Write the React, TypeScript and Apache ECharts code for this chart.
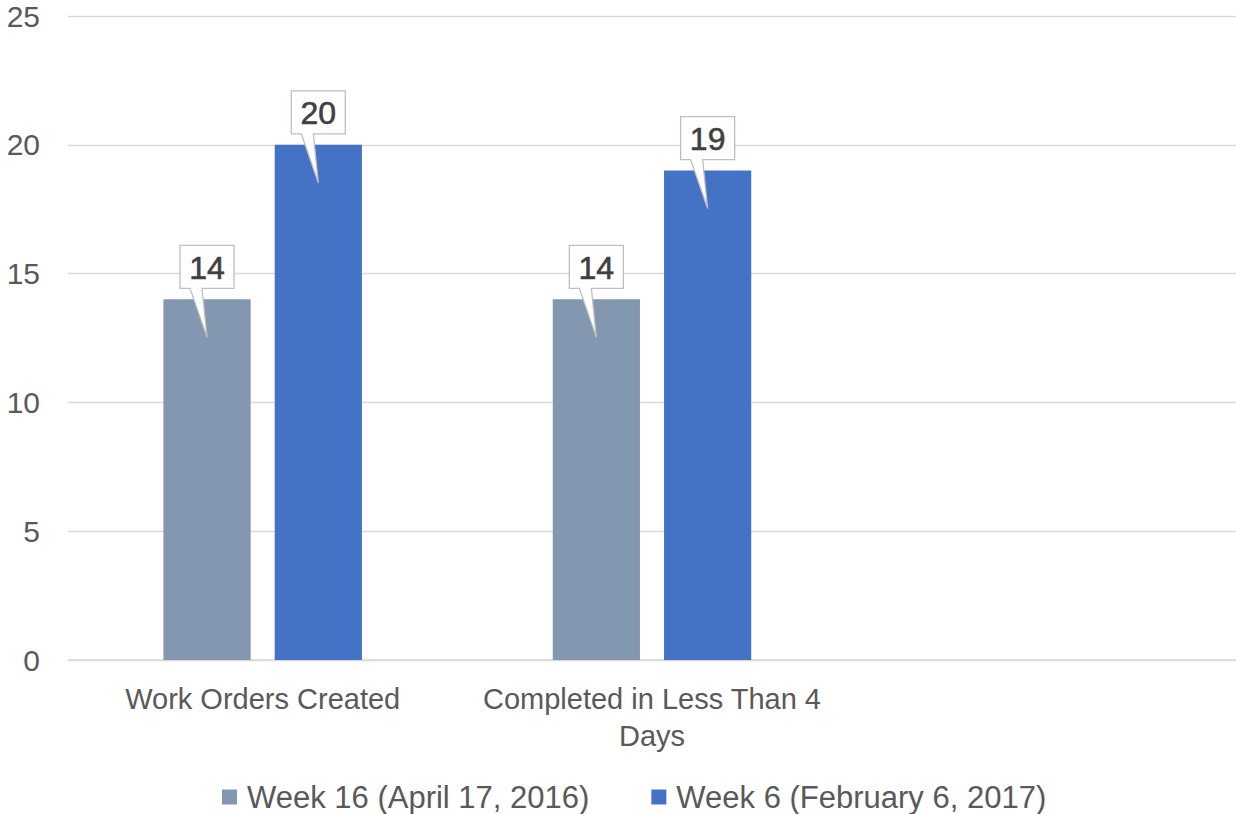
import React, { useEffect, useRef } from "react";
import * as echarts from "echarts";

const categories = ["Work Orders Created", "Completed in Less Than 4\nDays", ""];
const seriesNames = ["Week 16 (April 17, 2016)", "Week 6 (February 6, 2017)"];
const week16 = [14, 14, null];
const week6 = [20, 19, null];
const yTicks = { min: 0, max: 25, interval: 5 };

const colors = ["#8497B0", "#4472C4"];
const FONT = "'Liberation Sans', Arial, sans-serif";
const BAR_W = 0.224;
const BAR_GAP = 0.276;

function calloutSeries(values: (number | null)[], side: number) {
  const data = values
    .map((v, i) => (v == null ? null : [i, v]))
    .filter((d) => d != null);
  return {
    type: "custom",
    z: 10,
    clip: false,
    silent: true,
    data,
    renderItem: (params: any, api: any) => {
      const cat = api.value(0);
      const val = api.value(1);
      const p = api.coord([cat, val]);
      const bandW = api.size([1, 0])[0];
      const bw = bandW * BAR_W;
      const off = side * (bw + bw * BAR_GAP) / 2;
      const cx = p[0] + off;
      const top = p[1];
      const bx0 = cx - 27;
      const bx1 = cx + 27;
      const by1 = top - 11;
      const by0 = top - 54;
      return {
        type: "group",
        children: [
          {
            type: "polygon",
            shape: {
              points: [
                [bx0, by0],
                [bx1, by0],
                [bx1, by1],
                [cx - 5, by1],
                [cx, top + 38],
                [cx - 17, by1],
                [bx0, by1],
              ],
            },
            style: { fill: "#ffffff", stroke: "#bfbfbf", lineWidth: 1.3 },
          },
          {
            type: "text",
            style: {
              text: String(val),
              x: cx,
              y: (by0 + by1) / 2 + 1,
              align: "center",
              verticalAlign: "middle",
              fontSize: 32,
              fontFamily: FONT,
              fill: "#404040",
              stroke: "#404040",
              lineWidth: 0.6,
            },
          },
        ],
      };
    },
  };
}

export default function App() {
  const ref = useRef<HTMLDivElement>(null);
  useEffect(() => {
    if (!ref.current) return;
    const chart = echarts.init(ref.current, undefined, { renderer: "svg" });
    chart.setOption({
      animation: false,
      backgroundColor: "#ffffff",
      grid: { left: 68, right: 0, top: 16, bottom: 154, containLabel: false },
      legend: {
        data: seriesNames,
        top: 781,
        left: 222,
        padding: 0,
        itemWidth: 15,
        itemHeight: 15,
        itemGap: 62,
        icon: "rect",
        textStyle: {
          fontSize: 31,
          lineHeight: 32,
          fontFamily: FONT,
          color: "#595959",
          padding: [0, 0, 0, 5],
        },
      },
      xAxis: {
        type: "category",
        data: categories,
        axisLine: { lineStyle: { color: "#d9d9d9", width: 1.5 } },
        axisTick: { show: false },
        axisLabel: {
          interval: 0,
          fontSize: 29,
          lineHeight: 37,
          margin: 20,
          color: "#595959",
          fontFamily: FONT,
        },
      },
      yAxis: {
        type: "value",
        min: yTicks.min,
        max: yTicks.max,
        interval: yTicks.interval,
        axisLine: { show: false },
        axisTick: { show: false },
        splitLine: { lineStyle: { color: "#d9d9d9", width: 1.3 } },
        axisLabel: { fontSize: 30, margin: 28, color: "#595959", fontFamily: FONT },
      },
      series: [
        {
          name: seriesNames[0],
          type: "bar",
          data: week16,
          barWidth: BAR_W * 100 + "%",
          barGap: BAR_GAP * 100 + "%",
          itemStyle: { color: colors[0] },
        },
        {
          name: seriesNames[1],
          type: "bar",
          data: week6,
          barWidth: BAR_W * 100 + "%",
          itemStyle: { color: colors[1] },
        },
        calloutSeries(week16, -1),
        calloutSeries(week6, 1),
      ],
    });
    return () => chart.dispose();
  }, []);
  return (
    <div
      ref={ref}
      style={{ position: "fixed", left: 0, top: 0, width: 1236, height: 814 }}
    />
  );
}
